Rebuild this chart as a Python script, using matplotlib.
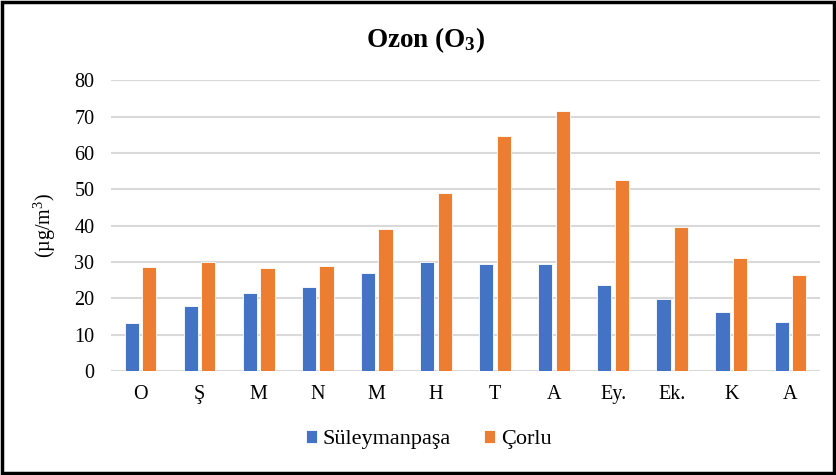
import numpy as np
import matplotlib
matplotlib.use("Agg")
import matplotlib.pyplot as plt
from matplotlib.patches import Rectangle
from matplotlib.font_manager import FontProperties

# Data
months = ["O", "Ş", "M", "N", "M", "H", "T", "A", "Ey.", "Ek.", "K", "A"]
suleymanpasa = [13.1, 18.0, 21.4, 23.1, 26.9, 30.0, 29.5, 29.5, 23.7, 19.9, 16.3, 13.6]
corlu = [28.6, 29.9, 28.4, 28.9, 39.2, 49.0, 64.7, 71.5, 52.5, 39.6, 31.0, 26.3]
yticks = [0, 10, 20, 30, 40, 50, 60, 70, 80]

plt.rcParams['font.family'] = ['Liberation Serif', 'DejaVu Serif']
plt.rcParams['mathtext.fontset'] = 'custom'
plt.rcParams['mathtext.rm'] = 'Liberation Serif'
plt.rcParams['mathtext.it'] = 'Liberation Serif:italic'
plt.rcParams['mathtext.bf'] = 'Liberation Serif:bold'

fig = plt.figure(figsize=(8.37, 4.75), dpi=100)
ax = fig.add_axes([0.1326, 0.219, 0.847, 0.612])

x = np.arange(len(months))
w = 0.24
gap = 0.028
ax.bar(x - w / 2 - gap, suleymanpasa, width=w, color="#4472C4",
       edgecolor="white", linewidth=0.6, label="Süleymanpaşa", zorder=3)
ax.bar(x + w / 2 + gap, corlu, width=w, color="#ED7D31",
       edgecolor="white", linewidth=0.6, label="Çorlu", zorder=3)

ax.set_xlim(-0.5, len(months) - 0.5)
ax.set_ylim(0, 80)
ax.set_yticks(yticks)
ax.set_xticks(x)
ax.set_xticklabels(months)
ax.tick_params(axis="both", length=0, labelsize=14.5, colors="black")
ax.tick_params(axis="y", pad=12)
ax.tick_params(axis="x", pad=10)
ax.grid(axis="y", color="#d9d9d9", linewidth=1.5, zorder=0)
for s in ax.spines.values():
    s.set_visible(False)

ax.set_ylabel("(µg/m$\\mathrm{^3}$)", fontsize=14.5, labelpad=12)
fig.text(0.508, 0.915, "Ozon (O$\\mathbf{_3}$)", ha="center", va="center",
         fontsize=19.5, fontweight="bold")

leg_font = FontProperties(family="Liberation Serif", size=16)
fig.legend(*ax.get_legend_handles_labels(), loc="center",
           bbox_to_anchor=(0.512, 0.074), ncol=2, frameon=False,
           prop=leg_font, handlelength=0.5, handleheight=0.5, handletextpad=0.25,
           columnspacing=1.5)

# black frame around the whole figure
fig.patches.append(Rectangle((0.002, 0.004), 0.995, 0.992, transform=fig.transFigure,
                             fill=False, edgecolor="black", linewidth=2.5))

fig.savefig("out.png", dpi=100, facecolor="white")
